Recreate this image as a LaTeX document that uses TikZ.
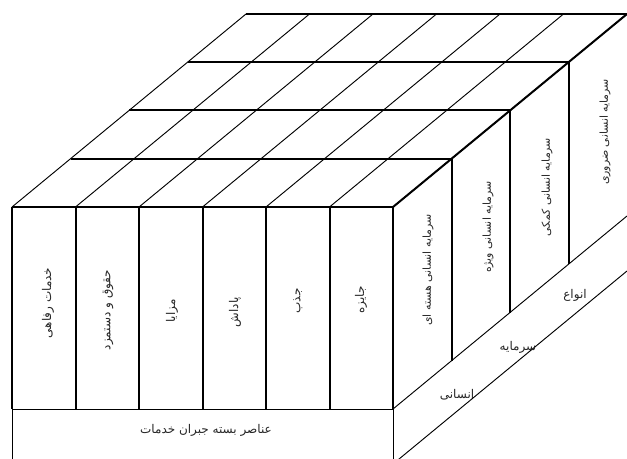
\documentclass[tikz,border=0pt]{standalone}
\usepackage{fontspec}
\newfontfamily\farsifont[Script=Arabic]{DejaVu Sans}
\TeXXeTstate=1
\usepackage{tikz}
\usetikzlibrary{calc}

\begin{document}
\begin{tikzpicture}[x=0.75pt, y=-0.75pt,
        boldline/.style={line width=1.5pt},
        thinline/.style={line width=0.7pt},
        falabel/.style={font=\farsifont\fontsize{9}{11}\selectfont, text=black!85, inner sep=1pt},
        sidelabel/.style={falabel, font=\farsifont\fontsize{8.2}{10}\selectfont}]
            \useasboundingbox (0,0) rectangle (627,459);
            \clip (0,0) rectangle (627,459);

            % 1. Mat tren (luoi)
            \foreach \j in {0,...,6} {
                \draw[thinline] ({12+63.5*\j},207) -- ++(234,-193);
            }
            \foreach \k in {0,...,4} {
                \draw[boldline] ({12+58.5*\k},{207-48.25*\k}) -- ++(381,0);
            }

            % 2. Mat truoc: cac cot va o duoi
            \foreach \j in {0,...,6} {
                \draw[boldline] ({12+63.5*\j},207) -- ++(0,202);
            }
            \draw[thinline] (12,409) -- (393,409);
            \draw[thinline] (12,409) -- (12,464) -- (393,464) -- (393,409);

            % 3. Mat ben phai
            \draw[boldline] (393,207) -- ++(234,-193);
            \foreach \k in {1,2,3} {
                \draw[boldline] ({393+58.5*\k},{207-48.25*\k}) -- ++(0,202);
            }
            \draw[thinline] (393,409) -- ++(234,-193);
            \draw[thinline] (393,464) -- ++(234,-193);

            % 4. Chu
            \foreach \x/\y/\name/\txt in {48/303/rafahi/خدمات رفاهی, 108/310/hoghoogh/حقوق و دستمزد,
                    172/311/mazaya/مزایا, 235/312/padash/پاداش, 298/301/jazb/جذب, 361/300/jayezeh/جایزه} {
                \node[falabel, rotate=90] (\name) at (\x,\y) {\beginR\txt\endR};
            }
            \foreach \x/\y/\name/\txt in {428/270/hasteh/سرمایه انسانی هسته ای, 488/227/vizheh/سرمایه انسانی ویژه,
                    547/187/komaki/سرمایه انسانی کمکی, 605/132/zaruri/سرمایه انسانی ضروری} {
                \node[sidelabel, rotate=90] (\name) at (\x,\y) {\beginR\txt\endR};
            }
            \node[falabel] (anasor) at (206,430) {\beginR عناصر بسته جبران خدمات\endR};
            \node[falabel] (ensani) at (457,395) {\beginR انسانی\endR};
            \node[falabel] (sarmayeh) at (518,347) {\beginR سرمایه\endR};
            \node[falabel] (anva) at (575,295) {\beginR انواع\endR};
        \end{tikzpicture}
\end{document}
